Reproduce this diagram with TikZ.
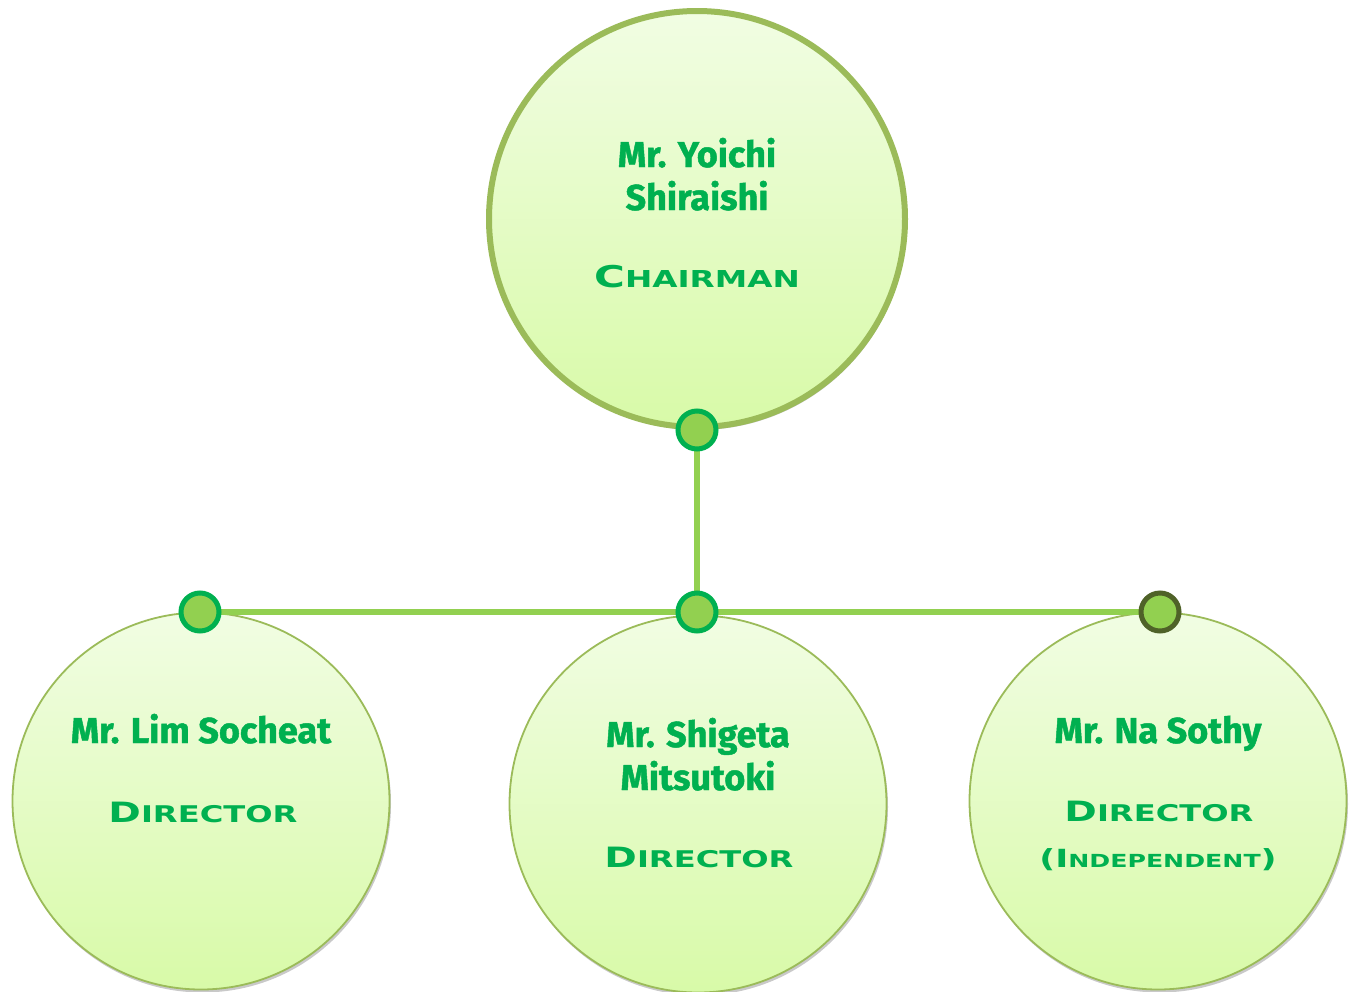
\documentclass[tikz,border=0pt]{standalone}
\usepackage{fontspec}
\setmainfont{Fira Sans}
\newfontfamily\namefont[BoldFeatures={FakeBold=1.3}]{Fira Sans}
\newfontfamily\titlefont[FakeStretch=1.4]{DejaVu Sans}
\usetikzlibrary{shadows}
\definecolor{txtgreen}{HTML}{00B050}
\definecolor{ringgreen}{HTML}{9BBB59}
\definecolor{linegreen}{HTML}{92D050}
\definecolor{darkolive}{HTML}{4F6228}
\definecolor{filltop}{HTML}{F1FDE3}
\definecolor{fillbot}{HTML}{D8FAA8}
\newcommand\bigsz[1]{\fontsize{#1}{#1}\selectfont}
\tikzset{
  bubble/.style={circle, inner sep=0pt, top color=filltop, bottom color=fillbot,
    draw=ringgreen, drop shadow={shadow xshift=1.5pt, shadow yshift=-3pt, opacity=0.3, fill=black!70}},
  topbubble/.style={bubble, line width=6pt, minimum size=416pt},
  lowbubble/.style={bubble, line width=1.8pt, minimum size=377pt},
  connector/.style={draw=linegreen, line width=6pt},
  dot/.style={circle, inner sep=0pt, minimum size=38pt, fill=linegreen, draw=txtgreen, line width=5pt},
  dotdark/.style={dot, draw=darkolive},
  nametext/.style={anchor=base, inner sep=0pt, text=txtgreen, font=\namefont\bfseries\bigsz{36}},
  titletext/.style={anchor=base, inner sep=0pt, text=txtgreen, font=\titlefont\bfseries},
}
\begin{document}
\begin{tikzpicture}[x=1pt,y=-1pt]
\useasboundingbox (0,0) rectangle (1357,991);
% big circles
\node[topbubble] (chair) at (697,219) {};
\node[lowbubble] (left) at (201,801) {};
\node[lowbubble] (mid) at (698,804) {};
\node[lowbubble] (right) at (1158,801) {};
% connector points
\coordinate (pTop) at (697,430);
\coordinate (pL) at (200,612);
\coordinate (pM) at (697,612);
\coordinate (pR) at (1160,612);
\draw[connector] (pTop) -- (pM);
\draw[connector] (pL) -- (pR);
\node[dot] (dTop) at (pTop) {};
\node[dot] (dL) at (pL) {};
\node[dot] (dM) at (pM) {};
\node[dotdark] (dR) at (pR) {};
% texts: chairman
\node[nametext] (n1a) at (697,167) {Mr. Yoichi};
\node[nametext] (n1b) at (697,210) {Shiraishi};
\node[titletext] (t1) at (697,287) {\bigsz{30}C\bigsz{23.3}HAIRMAN};
% left
\node[nametext] (n2a) at (201,743) {Mr. Lim Socheat};
\node[titletext] (t2) at (203,822) {\bigsz{28}D\bigsz{23}IRECTOR};
% middle
\node[nametext] (n3a) at (698,747) {Mr. Shigeta};
\node[nametext] (n3b) at (698,790) {Mitsutoki};
\node[titletext] (t3) at (699,867) {\bigsz{28}D\bigsz{23}IRECTOR};
% right
\node[nametext] (n4a) at (1158,743) {Mr. Na Sothy};
\node[titletext] (t4) at (1159,821) {\bigsz{28}D\bigsz{23}IRECTOR};
\node[titletext] (t4b) at (1158,867) {\bigsz{25}(I\bigsz{18}NDEPENDENT\bigsz{25})};
\end{tikzpicture}
\end{document}
